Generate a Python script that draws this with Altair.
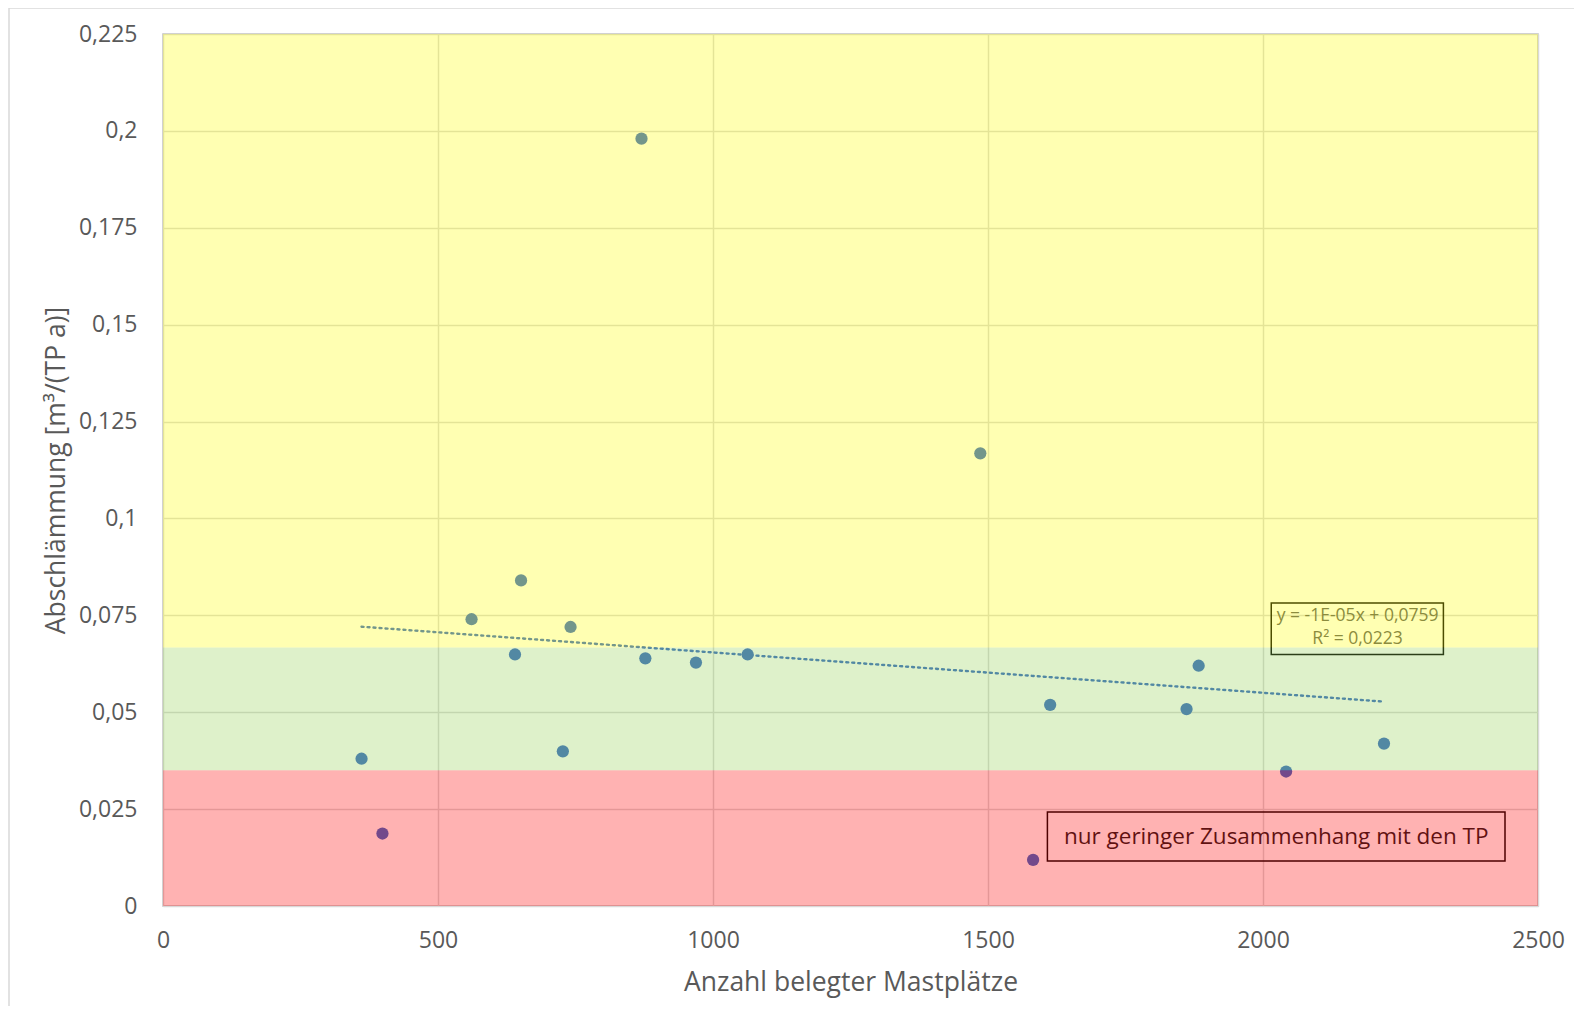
import altair as alt
import pandas as pd

# Data
mast_x = [361, 399, 561, 640, 651, 727, 741, 870, 877, 969, 1063, 1486, 1582, 1613, 1861, 1883, 2042, 2220]
abschl_y = [0.0380, 0.0187, 0.0740, 0.0649, 0.0840, 0.0399, 0.0720, 0.1980, 0.0639, 0.0628,
            0.0649, 0.1168, 0.0119, 0.0519, 0.0508, 0.0620, 0.0347, 0.0419]

band_lo = [0.0, 0.035, 0.0667]
band_hi = [0.035, 0.0667, 0.225]
band_color = ["#FF0000", "#92D050", "#FFFF00"]
band_x0 = [0, 0, 0]
band_x1 = [2500, 2500, 2500]

y_ticks = [0, 0.025, 0.05, 0.075, 0.1, 0.125, 0.15, 0.175, 0.2, 0.225]
x_ticks = [0, 500, 1000, 1500, 2000, 2500]

eq_lines = ["y = -1E-05x + 0,0759", "R² = 0,0223"]
eq_line_x = [2172, 2172]
eq_line_y = [0.0748, 0.0689]
eq_box = {"x0": [2015], "x1": [2328], "y0": [0.0649], "y1": [0.0782]}

note_text = ["nur geringer Zusammenhang mit den TP"]
note_x = [2024]
note_y = [0.0179]
note_box = {"x0": [1608], "x1": [2440], "y0": [0.0116], "y1": [0.02425]}

FONT = "Open Sans"
TXT = "#595959"
PT = "#3769C8"

df = pd.DataFrame({"x": mast_x, "y": abschl_y})
bands = pd.DataFrame({"lo": band_lo, "hi": band_hi, "c": band_color, "x0": band_x0, "x1": band_x1})
eq_df = pd.DataFrame({"t": eq_lines, "x": eq_line_x, "y": eq_line_y})
eqb_df = pd.DataFrame(eq_box)
note_df = pd.DataFrame({"t": note_text, "x": note_x, "y": note_y})
noteb_df = pd.DataFrame(note_box)

xscale = alt.Scale(domain=[0, 2500], nice=False, zero=False)
yscale = alt.Scale(domain=[0, 0.225], nice=False, zero=False)

xaxis = alt.Axis(values=x_ticks, format="d", grid=True, gridColor="#D9D9D9", gridWidth=1.5,
                 ticks=False, domain=False, labelFont=FONT, labelFontSize=23, labelColor=TXT,
                 labelPadding=23, labelFlush=False, title="Anzahl belegter Mastplätze", titleFont=FONT,
                 titleFontSize=26.5, titleColor=TXT, titleFontWeight="normal",
                 titleBaseline="alphabetic", titleY=84)
yaxis = alt.Axis(values=y_ticks, labelExpr="replace(toString(datum.value), '.', ',')",
                 grid=True, gridColor="#D9D9D9", gridWidth=1.5, ticks=False, domain=False,
                 labelFont=FONT, labelFontSize=23, labelColor=TXT, labelPadding=26, labelFlush=False,
                 title="Abschlämmung [m³/(TP a)]", titleFont=FONT, titleFontSize=26.5,
                 titleColor=TXT, titleFontWeight="normal", titleAngle=270,
                 titleBaseline="alphabetic", titleX=-99, titleY=436, titleAlign="center")

points = alt.Chart(df).mark_circle(size=150, color=PT, opacity=1).encode(
    x=alt.X("x:Q", scale=xscale, axis=xaxis),
    y=alt.Y("y:Q", scale=yscale, axis=yaxis),
)

trend = alt.Chart(df).transform_regression("x", "y").mark_line(
    color=PT, strokeWidth=2.4, strokeDash=[2, 4], strokeCap="round"
).encode(x=alt.X("x:Q", scale=xscale), y=alt.Y("y:Q", scale=yscale))

eq_rect = alt.Chart(eqb_df).mark_rect(fillOpacity=0, stroke="#000000", strokeWidth=1.5).encode(
    x=alt.X("x0:Q", scale=xscale), x2="x1:Q", y=alt.Y("y0:Q", scale=yscale), y2="y1:Q")
eq_text = alt.Chart(eq_df).mark_text(font=FONT, fontSize=17.5, color="#595959", align="center",
                                      baseline="middle").encode(
    x=alt.X("x:Q", scale=xscale), y=alt.Y("y:Q", scale=yscale), text="t:N")

note_rect = alt.Chart(noteb_df).mark_rect(fillOpacity=0, stroke="#000000", strokeWidth=1.5).encode(
    x=alt.X("x0:Q", scale=xscale), x2="x1:Q", y=alt.Y("y0:Q", scale=yscale), y2="y1:Q")
note_txt = alt.Chart(note_df).mark_text(font=FONT, fontSize=22.5, color="#1A1A1A", align="center",
                                         baseline="middle").encode(
    x=alt.X("x:Q", scale=xscale), y=alt.Y("y:Q", scale=yscale), text="t:N")

band_layer = alt.Chart(bands).mark_rect(opacity=0.3).encode(
    x=alt.X("x0:Q", scale=xscale), x2="x1:Q",
    y=alt.Y("lo:Q", scale=yscale), y2="hi:Q",
    color=alt.Color("c:N", scale=None, legend=None),
)

frame = alt.Chart(pd.DataFrame({"a": [0]})).mark_rect(
    fillOpacity=0, stroke="#D9D9D9", strokeWidth=1.5).encode(
    x=alt.value(-154), x2=alt.value(1600), y=alt.value(-26), y2=alt.value(1200))

chart = alt.layer(points, trend, eq_rect, eq_text, note_rect, note_txt, band_layer, frame).properties(
    width=1375, height=872,
    autosize=alt.AutoSizeParams(type="none"),
    padding={"left": 155, "top": 26, "right": 36, "bottom": 100},
).configure_view(stroke="#BFBFBF", strokeWidth=1.5)

chart.save("out.html", embed_options={"renderer": "svg", "actions": False})
